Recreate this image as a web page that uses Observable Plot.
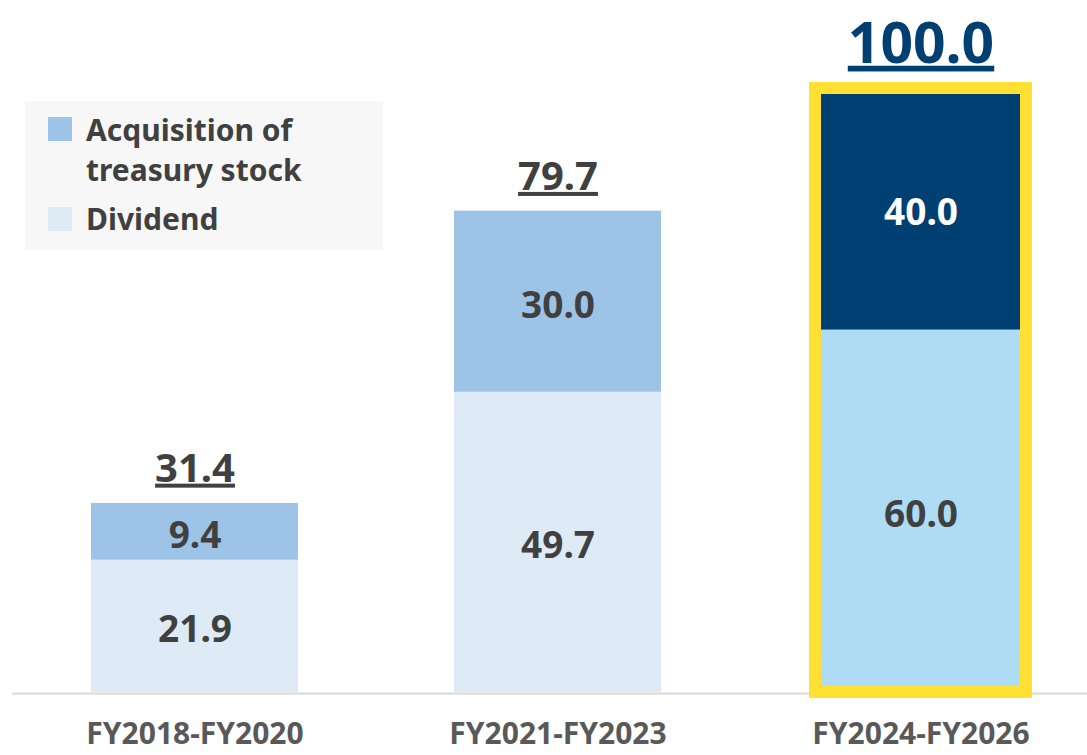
<!DOCTYPE html>
<html><head><meta charset="utf-8">
<script src="https://cdn.jsdelivr.net/npm/d3@7"></script>
<script src="https://cdn.jsdelivr.net/npm/@observablehq/plot@0.6"></script>
<style>
body{margin:0;background:#fff;font-family:"Noto Sans",sans-serif;}
#wrap{position:relative;width:1087px;height:755px;overflow:hidden;}
#legend{position:absolute;left:25px;top:101px;width:358px;height:149px;background:#f7f7f7;}
.sw{position:absolute;left:23px;width:24px;height:24px;}
.lt{position:absolute;left:61px;font-size:30px;font-weight:bold;color:#404040;line-height:40px;white-space:nowrap;}
</style></head><body>
<div id="wrap"><div id="chart"></div><div id="legend"></div></div>
<script>
const periods = ["FY2018-FY2020", "FY2021-FY2023", "FY2024-FY2026"];
const dividend = [21.9, 49.7, 60.0];
const treasury = [9.4, 30.0, 40.0];
const totals = [31.4, 79.7, 100.0];
const seriesNames = ["Acquisition of treasury stock", "Dividend"];
const highlighted = "FY2024-FY2026";

const palette = {
  normal: {Dividend: "#deebf7", Treasury: "#9dc3e6"},
  highlight: {Dividend: "#addcf4", Treasury: "#003f72"}
};

const rows = [];
periods.forEach((p, i) => {
  rows.push({period: p, type: "Dividend", value: dividend[i]});
  rows.push({period: p, type: "Treasury", value: treasury[i]});
});
const totalRows = periods.map((p, i) => ({period: p, total: totals[i]}));

const fillOf = d => (d.period === highlighted ? palette.highlight : palette.normal)[d.type];
const labelFill = d => (d.period === highlighted && d.type === "Treasury") ? "#ffffff" : "#404040";

const chart = Plot.plot({
  width: 1087, height: 755,
  marginLeft: 12, marginRight: 0, marginTop: 88, marginBottom: 63,
  style: {fontFamily: "Noto Sans, sans-serif", background: "transparent"},
  x: {domain: periods, range: [90, 1025], paddingInner: 0.431, paddingOuter: 0, label: null},
  y: {domain: [0, 100], axis: null},
  marks: [
    Plot.barY(rows, Plot.stackY({x: "period", y: "value", fill: fillOf})),
    Plot.ruleY([0], {stroke: "#d9d9d9", strokeWidth: 2, dy: 1}),
    Plot.barY(totalRows.filter(d => d.period === highlighted), {
      x: "period", y: "total", fill: "none", stroke: "#ffe033", strokeWidth: 12,
      insetLeft: -2, insetRight: -2
    }),
    Plot.text(rows, Plot.stackY({
      x: "period", y: "value", text: d => d.value.toFixed(1),
      fill: labelFill, fontSize: 37, fontWeight: "bold", dy: 4
    })),
    Plot.text(totalRows.filter(d => d.period !== highlighted), {
      x: "period", y: "total", text: d => d.total.toFixed(1),
      fill: "#404040", fontSize: 40, fontWeight: "bold", dy: -34
    }),
    Plot.text(totalRows.filter(d => d.period === highlighted), {
      x: "period", y: "total", text: d => d.total.toFixed(1),
      fill: "#003f72", fontSize: 57, fontWeight: "bold", dy: -44
    }),
    Plot.axisX({tickSize: 0, tickPadding: 30, fontSize: 30, fontWeight: "bold", fill: "#595959"})
  ]
});

d3.select(chart).selectAll('g[aria-label="text"]')
  .filter((d, i) => i >= 1)
  .style("text-decoration", "underline");

document.getElementById("chart").appendChild(chart);

const legend = document.getElementById("legend");
const items = [
  {name: seriesNames[0], color: palette.normal.Treasury, top: 16, lines: ["Acquisition of", "treasury stock"], textTop: 9},
  {name: seriesNames[1], color: palette.normal.Dividend, top: 106, lines: ["Dividend"], textTop: 98}
];
items.forEach(it => {
  const sw = document.createElement("div");
  sw.className = "sw"; sw.style.top = it.top + "px"; sw.style.background = it.color;
  legend.appendChild(sw);
  const t = document.createElement("div");
  t.className = "lt"; t.style.top = it.textTop + "px";
  t.innerHTML = it.lines.join("<br>");
  legend.appendChild(t);
});
</script>
</body></html>
